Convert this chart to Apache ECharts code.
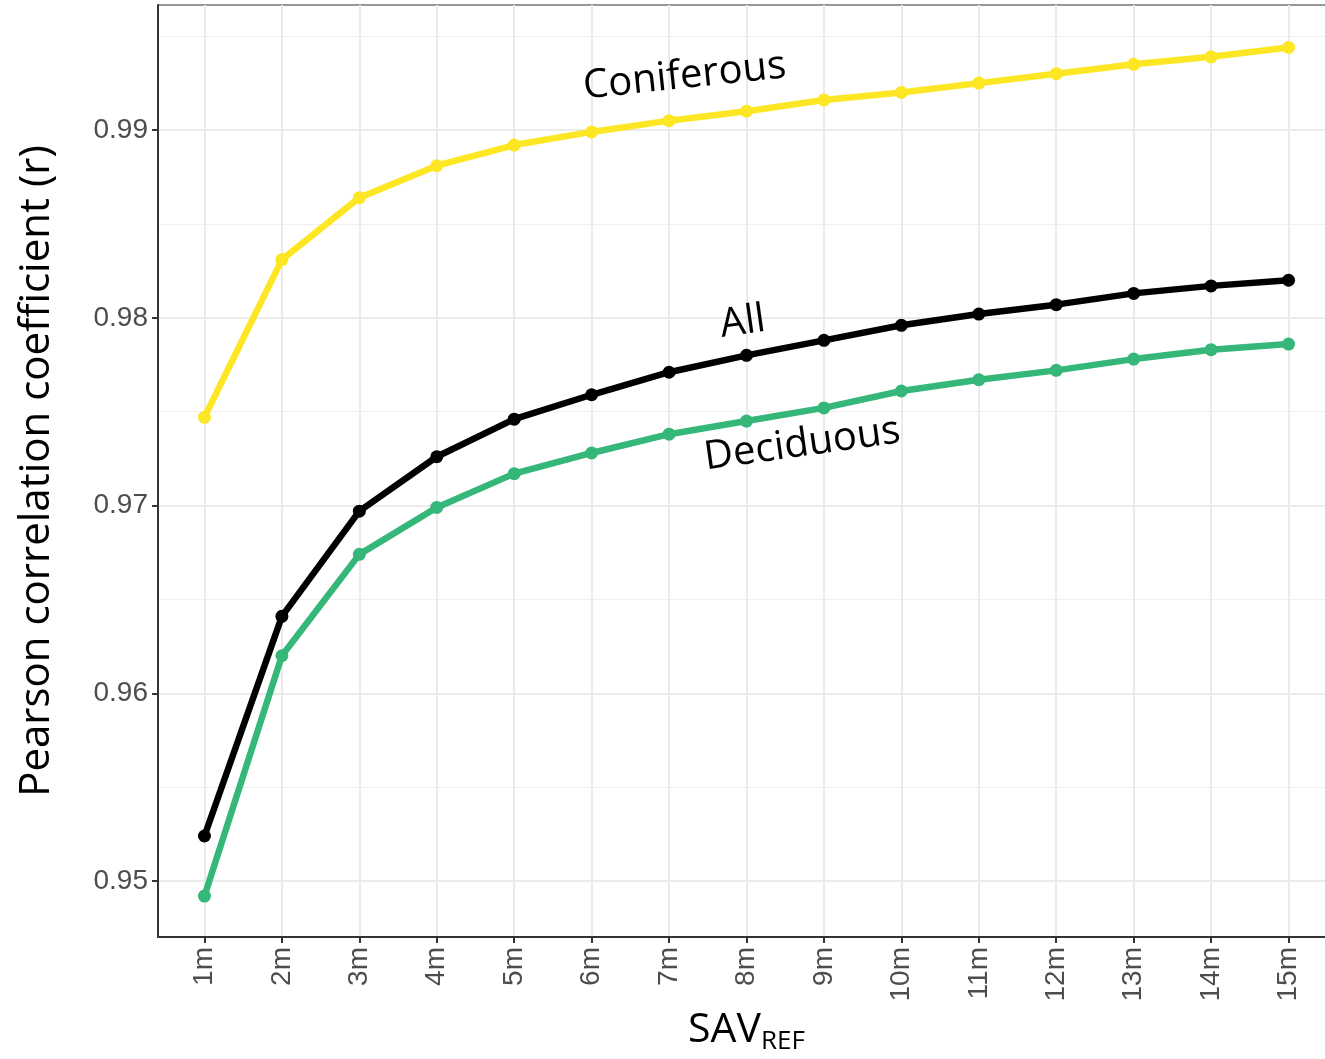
<!DOCTYPE html>
<html>
<head>
<meta charset="utf-8">
<script src="https://cdn.jsdelivr.net/npm/echarts@6/dist/echarts.min.js"></script>
<style>
  html, body { margin: 0; padding: 0; background: #fff; }
  #main { width: 1325px; height: 1059px; }
</style>
</head>
<body>
<div id="main"></div>
<script>
// data
var sizes = ['1m', '2m', '3m', '4m', '5m', '6m', '7m', '8m', '9m', '10m', '11m', '12m', '13m', '14m', '15m'];
var coniferous = [0.9747, 0.9831, 0.9864, 0.9881, 0.9892, 0.9899, 0.9905, 0.9910, 0.9916, 0.9920, 0.9925, 0.9930, 0.9935, 0.9939, 0.9944];
var all = [0.9524, 0.9641, 0.9697, 0.9726, 0.9746, 0.9759, 0.9771, 0.9780, 0.9788, 0.9796, 0.9802, 0.9807, 0.9813, 0.9817, 0.9820];
var deciduous = [0.9492, 0.9620, 0.9674, 0.9699, 0.9717, 0.9728, 0.9738, 0.9745, 0.9752, 0.9761, 0.9767, 0.9772, 0.9778, 0.9783, 0.9786];
var yTicks = [0.95, 0.96, 0.97, 0.98, 0.99];
var yMinor = [0.955, 0.965, 0.975, 0.985, 0.995];

var xPos = sizes.map(function (s, i) { return i + 1; });
function pairs(vals) {
    return vals.map(function (v, i) { return [xPos[i], v]; });
}

var myChart = echarts.init(document.getElementById('main'));

function lineSeries(name, vals, color) {
    return {
        name: name,
        type: 'line',
        data: pairs(vals),
        symbol: 'circle',
        symbolSize: 13,
        itemStyle: { color: color },
        lineStyle: { color: color, width: 6.5 },
        emphasis: { disabled: true },
        z: 3
    };
}

var yRange = { min: 0.94702, max: 0.99666 };

var option = {
    animation: false,
    grid: {
        left: 158, top: 5, right: -10, bottom: 122,
        outerBoundsMode: 'none',
        containLabel: false,
        show: true, borderColor: '#333', borderWidth: 1
    },
    xAxis: {
        type: 'value',
        min: 0.4, max: 15.6,
        axisLine: { show: true, onZero: false, lineStyle: { color: '#333', width: 2 } },
        axisTick: { show: true, customValues: xPos, length: 6, lineStyle: { color: '#333', width: 2 } },
        axisLabel: {
            customValues: xPos,
            rotate: 90,
            margin: 10,
            fontFamily: 'Liberation Sans',
            fontSize: 28,
            color: '#4d4d4d',
            formatter: function (v) { return sizes[Math.round(v) - 1] || ''; }
        },
        splitLine: { show: true, customValues: xPos, lineStyle: { color: '#ebebeb', width: 2 } },
        name: '{a|SAV}{b|REF}',
        nameLocation: 'middle',
        nameGap: 68,
        nameTextStyle: {
            rich: {
                a: { fontFamily: 'Open Sans', fontSize: 41, color: '#000' },
                b: { fontFamily: 'Open Sans', fontSize: 26, color: '#000', verticalAlign: 'bottom', padding: [24, 0, 0, 0] }
            }
        }
    },
    yAxis: [{
        type: 'value',
        min: yRange.min, max: yRange.max,
        axisLine: { show: true, onZero: false, lineStyle: { color: '#333', width: 2 } },
        axisTick: { show: true, customValues: yTicks, length: 6, lineStyle: { color: '#333', width: 2 } },
        axisLabel: {
            customValues: yTicks,
            margin: 10,
            fontFamily: 'Liberation Sans',
            fontSize: 28,
            color: '#4d4d4d',
            formatter: function (v) { return v.toFixed(2); }
        },
        splitLine: { show: true, customValues: yTicks, lineStyle: { color: '#ebebeb', width: 2 } },
        name: 'Pearson correlation coefficient (r)',
        nameLocation: 'middle',
        nameGap: 100,
        nameTextStyle: { fontFamily: 'Open Sans', fontSize: 42, color: '#000' },
        z: 1
    }, {
        // minor grid lines only
        type: 'value',
        position: 'left',
        min: yRange.min, max: yRange.max,
        axisLine: { show: false },
        axisTick: { show: false, customValues: yMinor },
        axisLabel: { show: false, customValues: yMinor },
        splitLine: { show: true, customValues: yMinor, lineStyle: { color: '#f0f0f0', width: 1.2 } },
        z: 0
    }],
    series: [
        lineSeries('Coniferous', coniferous, '#fde725'),
        lineSeries('All', all, '#000000'),
        lineSeries('Deciduous', deciduous, '#35b779')
    ]
};
myChart.setOption(option);

// curve annotations, placed in data coordinates
var notes = [
    { text: 'Coniferous', at: [7.2, 0.99285], angle: 6 },
    { text: 'All', at: [7.95, 0.97975], angle: 8 },
    { text: 'Deciduous', at: [8.72, 0.97325], angle: 8 }
];
myChart.setOption({
    graphic: notes.map(function (n) {
        var p = myChart.convertToPixel({ gridIndex: 0 }, n.at);
        return {
            type: 'text',
            x: p[0], y: p[1],
            rotation: n.angle * Math.PI / 180,
            z: 10,
            style: {
                text: n.text,
                fontFamily: 'Open Sans',
                fontSize: 40,
                fill: '#000',
                align: 'center',
                verticalAlign: 'middle'
            }
        };
    })
});
</script>
</body>
</html>
